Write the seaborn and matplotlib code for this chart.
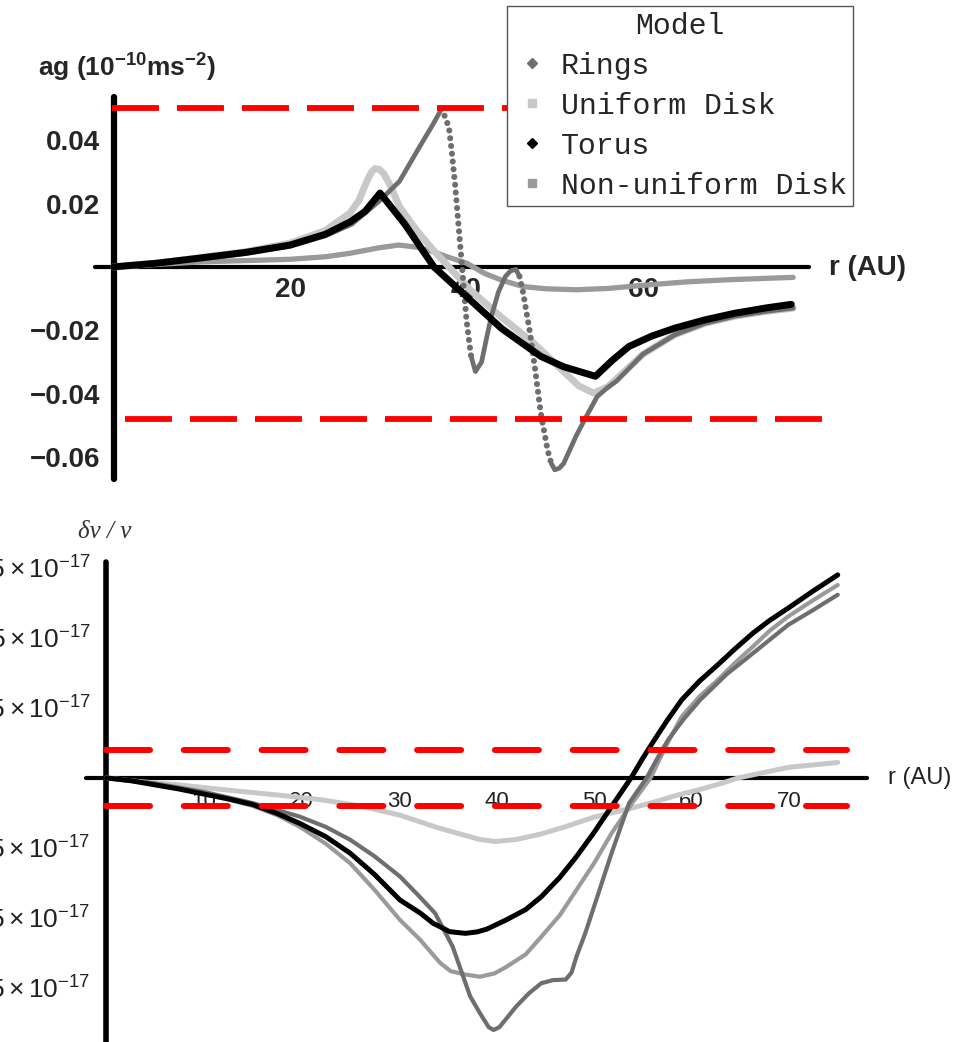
import numpy as np
import seaborn as sns
import matplotlib.pyplot as plt
from matplotlib.lines import Line2D

sns.set_style("white")
plt.rcParams['font.family'] = ['Liberation Sans', 'DejaVu Sans']
plt.rcParams['mathtext.fontset'] = 'custom'
plt.rcParams['mathtext.rm'] = 'Liberation Sans'
plt.rcParams['mathtext.it'] = 'Liberation Sans:italic'
plt.rcParams['mathtext.bf'] = 'Liberation Sans:bold'
plt.rcParams['lines.scale_dashes'] = False

# ---- top panel: anomalous acceleration ag (1e-10 m s^-2) vs r (AU) ----
r_torus = [0, 5, 9.8, 15, 20, 24, 26.8, 28.5, 30.2, 33, 36.3, 40.4, 44, 48.4, 51, 54.6,
           56.5, 58.4, 61, 63.6, 67, 70.4, 74, 76.8]
ag_torus = [0, 0.0012, 0.0028, 0.0046, 0.0069, 0.0103, 0.0142, 0.0175, 0.0233, 0.0135, 0.0, -0.0104,
            -0.0195, -0.0282, -0.0315, -0.0345, -0.0295, -0.0251, -0.0218, -0.0193, -0.0167, -0.0146,
            -0.0129, -0.0118]

r_uniform = [0, 5, 10, 15, 20, 24, 26.8, 27.8, 28.7, 29.2, 29.6, 30.1, 30.6, 31.3, 32.4, 34.3, 36.2,
             38, 40.4, 44, 47.6, 51, 52.7, 54.4, 56, 57.5, 60, 63.6, 67, 70.5, 74, 77]
ag_uniform = [0, 0.0012, 0.003, 0.0048, 0.0075, 0.0115, 0.017, 0.021, 0.027, 0.0298, 0.031, 0.0308,
              0.0295, 0.026, 0.019, 0.0117, 0.0054, 0.0, -0.0072, -0.016, -0.024, -0.033, -0.0375,
              -0.0398, -0.0378, -0.034, -0.0275, -0.0214, -0.0178, -0.0155, -0.014, -0.013]

r_rings = [0, 5, 10, 15, 20, 24, 27, 30, 32.4, 34.7, 36.2, 37.2, 38.0, 38.3, 38.7, 39.0, 39.4, 40.0,
           40.5, 41.0, 41.7, 42.3, 42.8, 43.6, 44.4, 45.0, 45.6, 46.0, 46.4, 47.2, 47.8, 48.4, 49.2,
           49.6, 50.0, 50.5, 51.0, 52.4, 53.6, 54.8, 56, 57, 60, 63.6, 67, 70.5, 74, 77]
ag_rings = [0, 0.0011, 0.0026, 0.0042, 0.0065, 0.0098, 0.0135, 0.0205, 0.027, 0.038, 0.045, 0.050,
            0.044, 0.037, 0.026, 0.016, 0.003, -0.017, -0.028, -0.033, -0.030, -0.022, -0.0157, -0.008,
            -0.003, -0.0012, -0.0008, -0.003, -0.008, -0.021, -0.033, -0.046, -0.058, -0.062, -0.064,
            -0.0635, -0.062, -0.0534, -0.047, -0.0409, -0.038, -0.036, -0.0275, -0.0214, -0.0178,
            -0.0155, -0.014, -0.013]
rings_dotted_spans = [(37.2, 40.5), (46.0, 49.6)]

r_nonuni = [0, 5, 10, 15, 20, 24, 26.8, 30, 32.3, 34.5, 36.2, 38, 40, 42, 44, 46.4, 49, 52.4, 56,
            60.4, 65, 70, 74, 77]
ag_nonuni = [0, 0.0008, 0.0016, 0.002, 0.0024, 0.0032, 0.0043, 0.006, 0.0069, 0.0062, 0.0048, 0.003,
             0.0012, -0.002, -0.0042, -0.0062, -0.0069, -0.0072, -0.0068, -0.0057, -0.0047, -0.004,
             -0.0036, -0.0033]

ag_limits = [0.05, -0.048]
ag_ticks = [-0.06, -0.04, -0.02, 0.02, 0.04]
ag_ticklabels = ["\u22120.06", "\u22120.04", "\u22120.02", "0.02", "0.04"]
r_ticks_top = [20, 40, 60]

# ---- bottom panel: frequency shift dnu/nu (units of 1e-17) vs r (AU) ----
r_torus_b = [0, 2.5, 5, 7.5, 9.6, 12.5, 15, 17.5, 19.8, 22.5, 25, 27.5, 30.1, 32.2, 33.5, 35.2,
             36.8, 38, 39, 41, 43, 44.6, 46.5, 48.2, 50, 51.8, 53.8, 55, 56.2, 57.5, 59, 60.8,
             62.7, 64.5, 66.3, 68, 69.9, 72.5, 75]
dnu_torus = [0, -0.1, -0.25, -0.4, -0.55, -0.75, -0.95, -1.27, -1.62, -2.1, -2.69, -3.45, -4.36,
             -4.83, -5.19, -5.49, -5.55, -5.5, -5.4, -5.07, -4.7, -4.24, -3.55, -2.81, -1.95, -1.02,
             0, 0.7, 1.36, 2.05, 2.79, 3.45, 4.04, 4.62, 5.17, 5.62, 6.06, 6.68, 7.25]

r_nonuni_b = [0, 5, 10, 15, 17.5, 19.8, 22.5, 25, 27.5, 30.1, 32.2, 34.2, 35.3, 36.8, 38.3, 39.8,
              41, 43, 44.6, 46.5, 48.2, 50, 51.8, 53.8, 55.8, 57.4, 59, 60.8, 62.7, 64.5, 66.3, 68,
              69.9, 72.5, 75]
dnu_nonuni = [0, -0.2, -0.55, -1.0, -1.33, -1.74, -2.35, -3.05, -4.0, -5.07, -5.79, -6.6, -6.9,
              -7.02, -7.1, -6.98, -6.75, -6.3, -5.67, -4.9, -4.0, -3.05, -1.98, -0.95, 0, 1.15, 2.19,
              2.9, 3.5, 4.12, 4.69, 5.25, 5.76, 6.35, 6.89]

r_rings_b = [0, 5, 10, 15, 19.8, 22.5, 25, 27.5, 30.1, 32, 33.7, 35.5, 37.3, 38.3, 39.2, 39.7, 40.3,
             42.0, 43.3, 44.6, 45.8, 47.1, 47.7, 48.2, 49.1, 50.0, 51.8, 53.6, 55.4, 56.5, 57.6,
             59.2, 60.9, 63.6, 66.3, 69.9, 72.5, 75]
dnu_rings = [0, -0.2, -0.5, -0.9, -1.38, -1.75, -2.21, -2.8, -3.52, -4.2, -4.83, -6.02, -7.8, -8.4,
             -8.9, -9.0, -8.9, -8.17, -7.7, -7.33, -7.22, -7.2, -6.95, -6.38, -5.55, -4.6, -2.69,
             -0.9, 0, 0.7, 1.36, 2.1, 2.79, 3.7, 4.45, 5.46, 6.0, 6.54]

r_uniform_b = [0, 3, 7.5, 12, 17.8, 22, 26, 30.1, 34, 38.3, 39.9, 42, 44.6, 47, 50, 53.6, 56, 58.5,
               61, 63, 64.8, 67.5, 70, 75]
dnu_uniform = [0, -0.12, -0.25, -0.42, -0.62, -0.78, -1.0, -1.33, -1.78, -2.2, -2.27, -2.2, -2.0,
               -1.75, -1.4, -1.1, -0.88, -0.62, -0.4, -0.2, 0, 0.2, 0.38, 0.55]

dnu_limits = [1.0, -1.0]
dnu_ticks = [-7.5, -5, -2.5, 2.5, 5, 7.5]
dnu_ticklabels = [r"$-7.5\times10^{-17}$", r"$-5\times10^{-17}$", r"$-2.5\times10^{-17}$",
                  r"$2.5\times10^{-17}$", r"$5\times10^{-17}$", r"$7.5\times10^{-17}$"]
r_ticks_bot = [10, 20, 30, 40, 50, 60, 70]

C_RINGS, C_UNI, C_TORUS, C_NONUNI = "#6e6e6e", "#c8c8c8", "#000000", "#9a9a9a"
W, H = 954, 1042


def fx(px):
    return px / W


def fy(py):
    return 1 - py / H


def curve(ax, x, y, color, lw, z, **kw):
    sns.lineplot(x=x, y=y, ax=ax, color=color, linewidth=lw, zorder=z, sort=False,
                 estimator=None, solid_capstyle='round', solid_joinstyle='round',
                 legend=False, **kw)


fig = plt.figure(figsize=(W / 100, H / 100), dpi=100)

# ================= top panel =================
ax1 = fig.add_axes([fx(95), fy(479), (809 - 95) / W, (479 - 97) / H])
ax1.set_xlim(-2.1, 78.8)
ax1.set_ylim(-0.0669, 0.0536)

curve(ax1, r_nonuni, ag_nonuni, C_NONUNI, 3.8, 3.0)
curve(ax1, r_uniform, ag_uniform, C_UNI, 5.0, 3.1)

rr = np.array(r_rings)
ar = np.array(ag_rings)
dotted = np.zeros(len(rr), bool)
for a, b in rings_dotted_spans:
    dotted |= (rr > a) & (rr < b)
idx = np.where(~dotted)[0]
pieces = np.split(idx, np.where(np.diff(idx) > 1)[0] + 1)
for p in pieces:
    curve(ax1, rr[p], ar[p], C_RINGS, 3.4, 3.2)
for a, b in rings_dotted_spans:
    m = (rr >= a) & (rr <= b)
    curve(ax1, rr[m], ar[m], C_RINGS, 4.4, 3.2, linestyle=(0, (0.01, 5.6)), dash_capstyle='round')

curve(ax1, r_torus, ag_torus, C_TORUS, 5.0, 3.3)

ax1.hlines(ag_limits[0], -0.2, 80.3, colors='#ff0000', lw=4.2, linestyles=[(0, (33.8, 13))],
           zorder=4, clip_on=False, capstyle='butt')
ax1.hlines(ag_limits[1], 1.3, 80.3, colors='#ff0000', lw=4.2, linestyles=[(0, (33.8, 13))],
           zorder=4, clip_on=False, capstyle='butt')

for s in ['top', 'right']:
    ax1.spines[s].set_visible(False)
ax1.spines['left'].set_position(('data', 0))
ax1.spines['bottom'].set_position(('data', 0))
ax1.spines['left'].set_linewidth(4.5)
ax1.spines['bottom'].set_linewidth(3.0)
for s in ['left', 'bottom']:
    ax1.spines[s].set_color('black')
    ax1.spines[s].set_capstyle('round')
ax1.set_yticks(ag_ticks)
ax1.set_yticklabels(ag_ticklabels)
ax1.set_xticks(r_ticks_top)
ax1.set_xticklabels([str(t) for t in r_ticks_top])
ax1.tick_params(axis='y', direction='in', length=4, width=1.2, pad=9.5, labelsize=20)
ax1.tick_params(axis='x', direction='in', length=4, width=0.8, pad=7, labelsize=20)
for lab in ax1.get_xticklabels() + ax1.get_yticklabels():
    lab.set_fontweight('bold')
ax1.set_xlabel("")
ax1.set_ylabel("")
ax1.patch.set_alpha(0)

fig.text(fx(38), fy(77), r"ag (10$^{\mathbf{-10}}$ms$^{\mathbf{-2}}$)", fontsize=19,
         fontweight='bold', ha='left', va='baseline')
fig.text(fx(829), fy(268), "r (AU)", fontsize=20, fontweight='bold', ha='left', va='center')

handles = [Line2D([], [], marker='D', color=C_RINGS, linestyle='None', markersize=5),
           Line2D([], [], marker='s', color=C_UNI, linestyle='None', markersize=5.5),
           Line2D([], [], marker='D', color=C_TORUS, linestyle='None', markersize=5),
           Line2D([], [], marker='s', color=C_NONUNI, linestyle='None', markersize=5.5)]
labels = ["Rings", "Uniform Disk", "Torus", "Non-uniform Disk"]
leg = ax1.legend(handles, labels, title="Model", loc='upper left',
                 bbox_to_anchor=(fx(507), fy(6)), bbox_transform=fig.transFigure,
                 borderaxespad=0, prop={'family': 'Liberation Mono', 'size': 21.5},
                 title_fontproperties={'family': 'Liberation Mono', 'size': 21.5},
                 fancybox=False, framealpha=1, edgecolor='#555555', borderpad=0.2,
                 handlelength=1.3, handletextpad=0.3, labelspacing=0.4)
leg.get_frame().set_linewidth(1.0)
leg.set_zorder(6)

# ================= bottom panel =================
ax2 = fig.add_axes([fx(86), 0, (867 - 86) / W, (1042 - 562) / H])
ax2.set_xlim(-2.1, 78.0)
ax2.set_ylim(-9.43, 7.71)

curve(ax2, r_uniform_b, dnu_uniform, C_UNI, 3.6, 3.0)
curve(ax2, r_nonuni_b, dnu_nonuni, C_NONUNI, 3.0, 3.1)
curve(ax2, r_rings_b, dnu_rings, C_RINGS, 3.0, 3.2)
curve(ax2, r_torus_b, dnu_torus, C_TORUS, 3.6, 3.3)

for v in dnu_limits:
    ax2.hlines(v, 0, 76.0, colors='#ff0000', lw=4.3, linestyles=[(0, (31.7, 24.3))],
               zorder=4, clip_on=False, capstyle='round')

for s in ['top', 'right']:
    ax2.spines[s].set_visible(False)
ax2.spines['left'].set_position(('data', 0))
ax2.spines['bottom'].set_position(('data', 0))
ax2.spines['left'].set_linewidth(4.0)
ax2.spines['bottom'].set_linewidth(3.0)
for s in ['left', 'bottom']:
    ax2.spines[s].set_color('black')
    ax2.spines[s].set_capstyle('round')
ax2.set_yticks(dnu_ticks)
ax2.set_yticklabels(dnu_ticklabels)
ax2.set_xticks(r_ticks_bot)
ax2.set_xticklabels([str(t) for t in r_ticks_bot])
ax2.set_xticks(np.arange(2, 78, 2), minor=True)
ax2.tick_params(axis='y', direction='in', length=3, width=0.8, pad=11.5, labelsize=19,
                labelcolor='#222222')
ax2.tick_params(axis='x', which='major', direction='in', length=4, width=0.8, pad=9.5,
                labelsize=16, labelcolor='#222222')
ax2.tick_params(axis='x', which='minor', direction='in', length=2, width=0.6)
ax2.set_xlabel("")
ax2.set_ylabel("")
ax2.patch.set_alpha(0)

fig.text(fx(78), fy(532), "\u03b4\u03bd / \u03bd", fontsize=18, family='Liberation Serif',
         style='italic', color='#333333', ha='left', va='center')
fig.text(fx(888), fy(778), "r (AU)", fontsize=17, color='#222222', ha='left', va='center')

fig.savefig("out.png", dpi=100)
